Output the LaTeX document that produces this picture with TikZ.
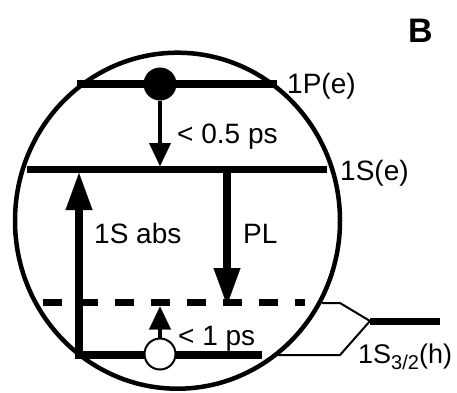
\documentclass[tikz,border=0pt]{standalone}
\usepackage{fontspec}
\setmainfont{Liberation Sans}
\usetikzlibrary{arrows.meta}
\tikzset{
  level/.style={line width=7.5pt},
  thinarrow/.style={line width=3.5pt,-{Triangle[length=23pt,width=22pt,line width=0.1pt]}},
  thickarrow/.style={line width=8pt,-{Triangle[length=37pt,width=27pt,line width=0.1pt]}},
  bracketline/.style={line width=2pt,line join=miter},
  lbl/.style={font=\fontsize{28}{30}\selectfont,inner sep=0pt,anchor=base west},
}
\begin{document}
\begin{tikzpicture}[x=1pt,y=-1pt]
\useasboundingbox (0,0) rectangle (457,392);
% dot outline
\draw[line width=4.5pt] (177.5,220.7) ellipse [x radius=162.5pt, y radius=168pt];
% level coordinates
\coordinate (pL) at (77,84);   \coordinate (pR) at (277,84);
\coordinate (sL) at (27,169.5); \coordinate (sR) at (327,169.5);
\coordinate (dL) at (43,302.5); \coordinate (dR) at (305,302.5);
\coordinate (hL) at (77,355);  \coordinate (hR) at (262,355);
% levels
\draw[level] (pL) -- (pR);
\draw[level] (sL) -- (sR);
\draw[level,dash pattern=on 19pt off 17pt] (dL) -- (dR);
\draw[level] (hL) -- (hR);
% carriers
\node[circle,fill=black,minimum size=33pt,inner sep=0pt] (e) at (160,84) {};
\node[circle,draw=black,fill=white,line width=2pt,minimum size=31pt,inner sep=0pt] (h) at (160,354) {};
% arrows
\coordinate (eT) at (160,166);
\draw[thinarrow] (e.south) -- (eT);
\coordinate (hT) at (160,306.5);
\draw[thinarrow] (h.north) -- (hT);
\coordinate (absB) at (79,358.5); \coordinate (absT) at (79,173);
\draw[thickarrow] (absB) -- (absT);
\coordinate (plB) at (227,169.5); \coordinate (plT) at (227,305);
\draw[thickarrow] (plB) -- (plT);
% bracket
\coordinate (bU) at (322,303); \coordinate (bUk) at (340,303);
\coordinate (bD) at (278,355); \coordinate (bDk) at (340,355);
\coordinate (bJ) at (370,321); \coordinate (bE) at (440,321);
\draw[bracketline] (bU) -- (bUk) -- (bJ);
\draw[bracketline] (bD) -- (bDk) -- (bJ);
\draw[line width=7pt] (bJ) -- (bE);
% labels
\node[lbl,font=\fontsize{34}{36}\selectfont\bfseries] (B) at (408,42) {B};
\node[lbl] (l1p) at (287,93) {1P(e)};
\node[lbl] (l05) at (177,143) {< 0.5 ps};
\node[lbl] (l1s) at (340,180) {1S(e)};
\node[lbl] (labs) at (94,243) {1S abs};
\node[lbl] (lpl) at (243,243) {PL};
\node[lbl] (l1ps) at (178,345) {< 1 ps};
\node[lbl,font=\fontsize{27}{30}\selectfont] (lh) at (358,363) {1S\raisebox{-6pt}{\fontsize{20}{22}\selectfont 3/2}(h)};
\end{tikzpicture}
\end{document}
